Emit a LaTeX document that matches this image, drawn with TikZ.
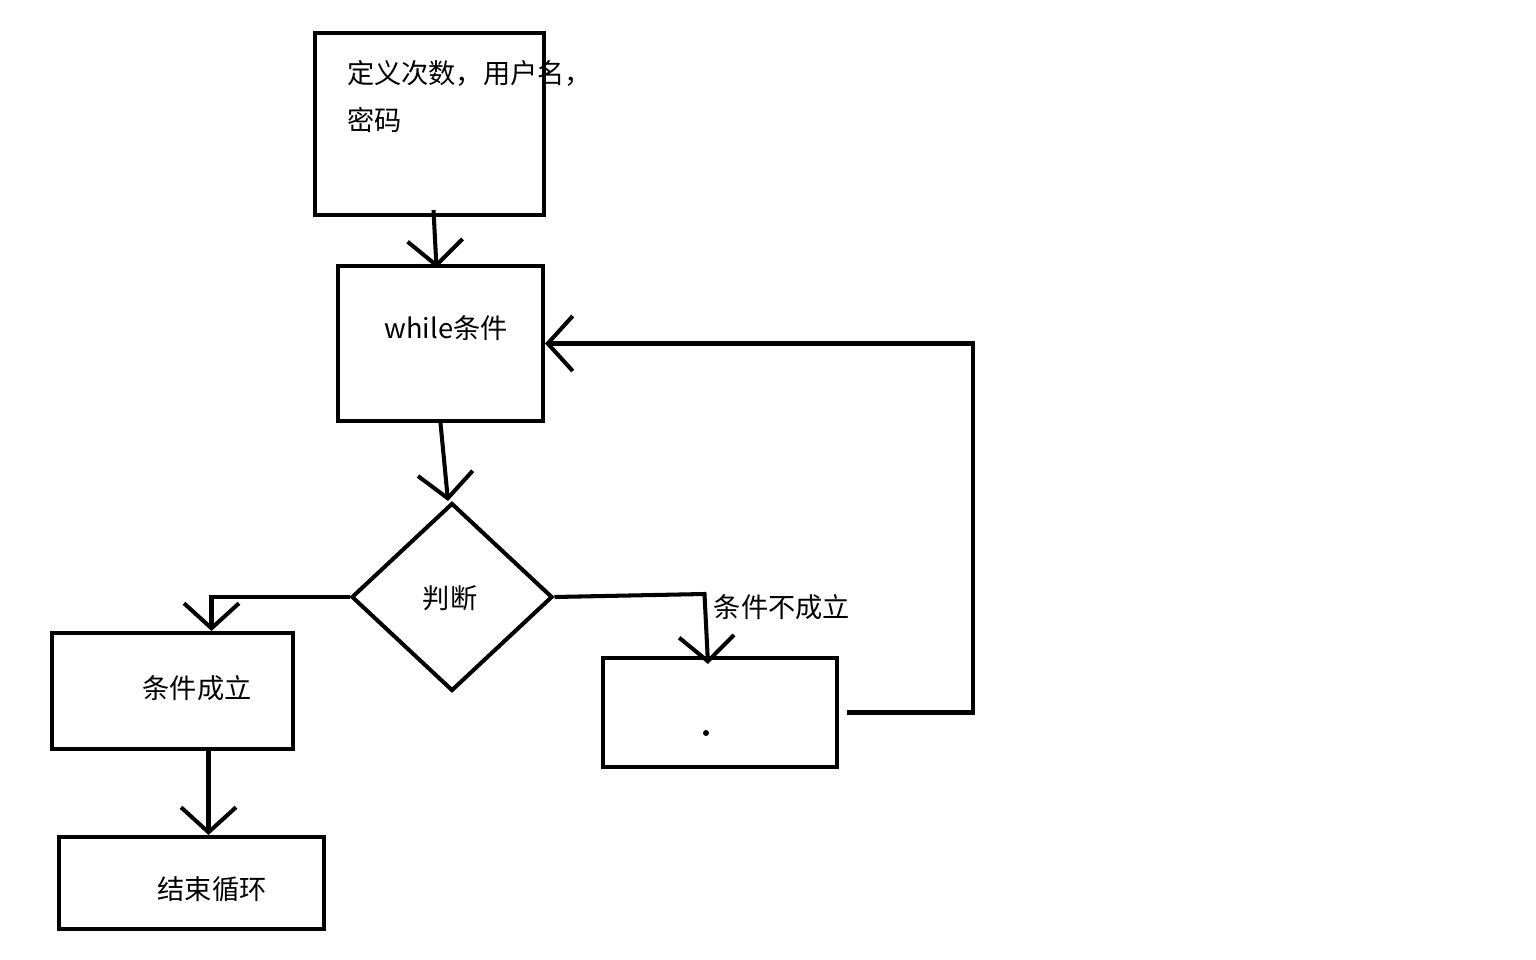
\documentclass[tikz,border=0pt]{standalone}
\usepackage{fontspec}
\setmainfont{Noto Sans CJK SC}
\usetikzlibrary{arrows.meta,calc,shapes.geometric}
\begin{document}
\begin{tikzpicture}[x=0.02cm,y=-0.02cm,line width=2.3pt,
  >={Straight Barb[length=5mm,width=11mm]},
  box/.style={draw,rectangle,inner sep=0pt},
  txt/.style={inner sep=0pt,align=left,font=\fontsize{15.5}{26.7}\selectfont}]
  \useasboundingbox (0,0) rectangle (1536,960);
  \node[box,minimum width=4.58cm,minimum height=3.64cm] (def) at (429.5,124) {};
  \node[txt,anchor=west] (deftxt) at (345,96.5) {定义次数，用户名，\\密码};
  \node[box,minimum width=4.10cm,minimum height=3.10cm] (while) at (440.5,343.5) {};
  \node[txt] (whiletxt) at (446,328) {while条件};
  \node[draw,diamond,inner sep=0pt,minimum width=4.02cm,minimum height=3.76cm] (dia) at (452,597) {};
  \node[txt] (diatxt) at (450,598) {判断};
  \node[box,minimum width=4.82cm,minimum height=2.32cm] (yes) at (172.5,691) {};
  \node[txt] (yestxt) at (197,688) {条件成立};
  \node[box,minimum width=5.30cm,minimum height=1.84cm] (end) at (191.5,883) {};
  \node[txt] (endtxt) at (212,889) {结束循环};
  \node[box,minimum width=4.68cm,minimum height=2.18cm] (no) at (720,712.5) {};
  \node[txt] (notxt) at (782,607) {条件不成立};
  \fill (706,733) circle (1.7pt);
  \draw[->] ($(def.south)+(4,-7)$) -- ($(while.north)+(-4,4)$);
  \draw[->] (while.south) -- ($(dia.north)+(-4,0)$);
  \draw[->] (dia.west) -| ($(yes.north)+(39,0)$);
  \draw[->] ($(yes.south)+(36,0)$) -- ($(end.north)+(17,0)$);
  \draw[->] (dia.east) -- ++(150,-3) -- ($(no.north)+(-12,8)$);
  \draw[->] ($(no.east)+(8,0)$) -- ++(126,0) |- (while.east);
\end{tikzpicture}
\end{document}
